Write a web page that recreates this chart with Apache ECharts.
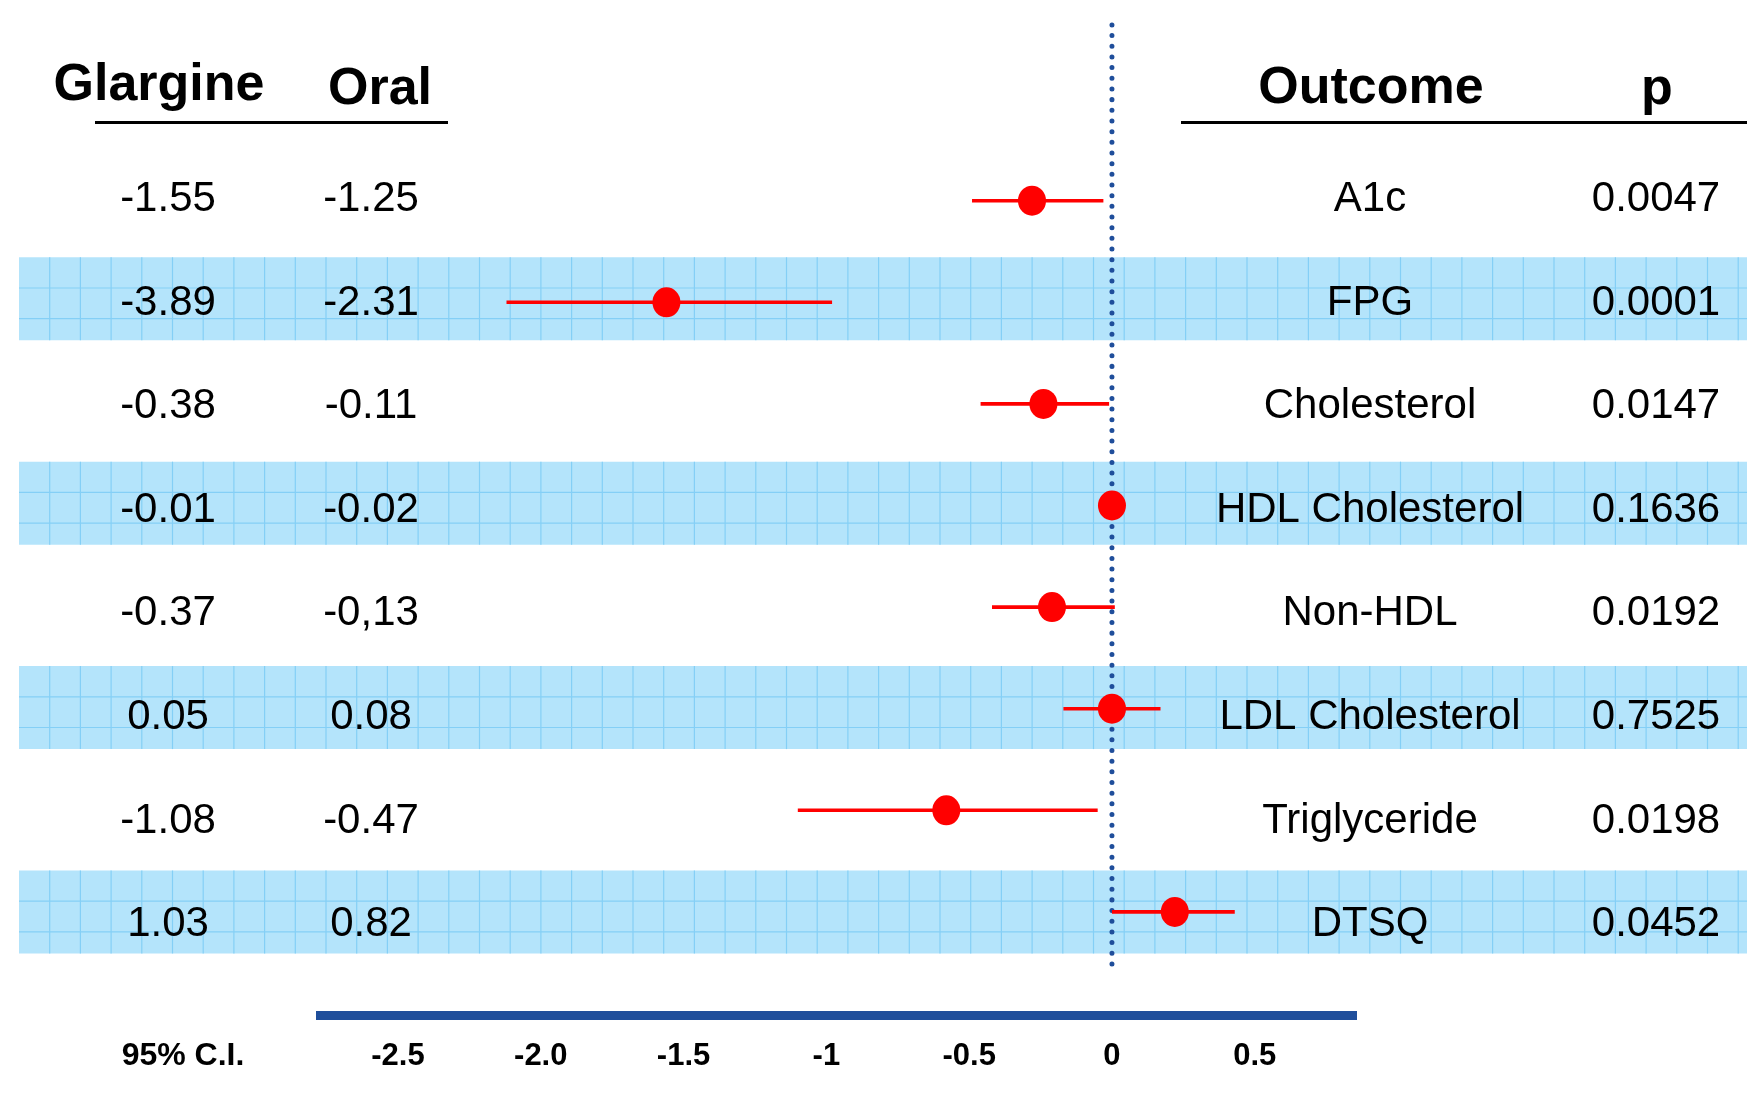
<!DOCTYPE html>
<html>
<head>
<meta charset="utf-8">
<title>Glargine vs Oral – forest plot</title>
<script src="https://cdn.jsdelivr.net/npm/echarts@6/dist/echarts.min.js"></script>
<style>
  html, body { margin: 0; padding: 0; background: #ffffff; }
  #chart { width: 1747px; height: 1104px; }
</style>
</head>
<body>
<div id="chart"></div>
<script>
// ---- table and estimate data ----
const outcomes  = ['A1c', 'FPG', 'Cholesterol', 'HDL Cholesterol', 'Non-HDL', 'LDL Cholesterol', 'Triglyceride', 'DTSQ'];
const glargine  = ['-1.55', '-3.89', '-0.38', '-0.01', '-0.37', '0.05', '-1.08', '1.03'];
const oral      = ['-1.25', '-2.31', '-0.11', '-0.02', '-0,13', '0.08', '-0.47', '0.82'];
const pValues   = ['0.0047', '0.0001', '0.0147', '0.1636', '0.0192', '0.7525', '0.0198', '0.0452'];
const estimate  = [-0.28, -1.56, -0.24, 0.00, -0.21, 0.00, -0.58, 0.22];
const ciLow     = [-0.49, -2.12, -0.46, -0.03, -0.42, -0.17, -1.10, 0.00];
const ciHigh    = [-0.03, -0.98, -0.01, 0.03, 0.01, 0.17, -0.05, 0.43];
const tickValues = [-2.5, -2, -1.5, -1, -0.5, 0, 0.5];
const tickLabels = ['-2.5', '-2.0', '-1.5', '-1', '-0.5', '0', '0.5'];
const leftTitles  = ['Glargine', 'Oral'];
const rightTitles = ['Outcome', 'p'];
const axisTitle = '95% C.I.';

const FONT = '"Liberation Sans", Arial, Helvetica, sans-serif';
const rows = outcomes.map((_, i) => i);
const shadedRows = rows.filter(i => i % 2 === 1);

const chart = echarts.init(document.getElementById('chart'), null, { renderer: 'canvas' });

// shaded row band with a light square grid inside it
function renderBand(params, api) {
  const i = api.value(0);
  const yTop = api.coord([0, i - 0.406])[1];
  const yBot = api.coord([0, i + 0.406])[1];
  const x0 = 19, x1 = api.getWidth();
  const cell = 30.7;
  const children = [{
    type: 'rect',
    shape: { x: x0, y: yTop, width: x1 - x0, height: yBot - yTop },
    style: { fill: '#b4e4fb' }
  }];
  const gridStyle = { stroke: '#84cff6', lineWidth: 1.2 };
  for (let x = x0 + cell; x < x1; x += cell) {
    children.push({ type: 'line', shape: { x1: x, y1: yTop, x2: x, y2: yBot }, style: gridStyle });
  }
  for (let y = yTop + cell; y < yBot - 2; y += cell) {
    children.push({ type: 'line', shape: { x1: x0, y1: y, x2: x1, y2: y }, style: gridStyle });
  }
  return { type: 'group', children };
}

// confidence interval whisker
function renderCI(params, api) {
  const a = api.coord([api.value(0), api.value(2)]);
  const b = api.coord([api.value(1), api.value(2)]);
  return {
    type: 'line',
    shape: { x1: a[0], y1: a[1], x2: b[0], y2: b[1] },
    style: { stroke: '#ff0000', lineWidth: 3.6 }
  };
}

// table columns: Glargine, Oral, Outcome, p
const columnX = [168, 371, 1370, 1656];
function renderRowText(params, api) {
  const i = api.value(0);
  const y = api.coord([0, i])[1];
  const texts = [glargine[i], oral[i], outcomes[i], pValues[i]];
  return {
    type: 'group',
    children: texts.map((t, k) => ({
      type: 'text',
      x: columnX[k], y: y,
      style: {
        text: t, fill: '#000000', fontSize: 42, fontFamily: FONT,
        align: 'center', verticalAlign: 'middle'
      }
    }))
  };
}

function headerText(text, x, y) {
  return {
    type: 'text', x, y, z: 10,
    style: {
      text, fill: '#000000', fontSize: 52, fontWeight: 'bold', fontFamily: FONT,
      align: 'center', verticalAlign: 'middle'
    }
  };
}

const option = {
  animation: false,
  backgroundColor: '#ffffff',
  grid: { left: 316, right: 390, top: 20, bottom: 89, containLabel: false },
  xAxis: {
    type: 'value',
    min: -2.787,
    max: 0.858,
    axisLine: { show: true, onZero: false, lineStyle: { color: '#1f4e9b', width: 9, cap: 'butt' } },
    axisTick: { show: false },
    splitLine: { show: false },
    axisLabel: {
      customValues: tickValues,
      formatter: v => tickLabels[tickValues.indexOf(v)] ?? String(v),
      color: '#000000', fontSize: 31, fontWeight: 'bold', fontFamily: FONT,
      margin: 26
    }
  },
  yAxis: [
    // estimates, whiskers and the zero reference line
    { type: 'value', inverse: true, min: -1.7785, max: 8.015, show: false },
    // table text rows
    { type: 'value', inverse: true, min: -1.7317, max: 7.8725, show: false },
    // shaded bands
    { type: 'value', inverse: true, min: -1.728, max: 8.008, show: false }
  ],
  graphic: [
    headerText(leftTitles[0], 159, 86),
    headerText(leftTitles[1], 380, 90),
    headerText(rightTitles[0], 1371, 89),
    headerText(rightTitles[1], 1657, 90),
    { type: 'line', shape: { x1: 95, y1: 122.5, x2: 448, y2: 122.5 }, style: { stroke: '#000000', lineWidth: 3 } },
    { type: 'line', shape: { x1: 1181, y1: 122.5, x2: 1747, y2: 122.5 }, style: { stroke: '#000000', lineWidth: 3 } },
    {
      type: 'text', x: 183, y: 1056,
      style: {
        text: axisTitle, fill: '#000000', fontSize: 32, fontWeight: 'bold', fontFamily: FONT,
        align: 'center', verticalAlign: 'middle'
      }
    }
  ],
  series: [
    {
      type: 'custom', name: 'bands', z: 1, clip: false, silent: true,
      yAxisIndex: 2,
      renderItem: renderBand,
      encode: { y: 0 },
      data: shadedRows.map(i => [i])
    },
    {
      type: 'line', name: 'zero', z: 3, silent: true,
      yAxisIndex: 0,
      symbol: 'none',
      lineStyle: { color: '#1f4e9b', width: 5, type: [0.01, 10.66], cap: 'round' },
      data: [[0, -1.73], [0, 7.55]]
    },
    {
      type: 'custom', name: 'ci', z: 4, clip: false,
      yAxisIndex: 0,
      renderItem: renderCI,
      encode: { x: [0, 1], y: 2 },
      data: rows.map(i => [ciLow[i], ciHigh[i], i])
    },
    {
      type: 'scatter', name: 'estimate', z: 5,
      yAxisIndex: 0,
      symbol: 'circle', symbolSize: [28, 30],
      itemStyle: { color: '#ff0000', opacity: 1 },
      data: rows.map(i => [estimate[i], i])
    },
    {
      type: 'custom', name: 'table', z: 6, clip: false, silent: true,
      yAxisIndex: 1,
      renderItem: renderRowText,
      encode: { y: 0 },
      data: rows.map(i => [i])
    }
  ]
};

chart.setOption(option);
</script>
</body>
</html>
